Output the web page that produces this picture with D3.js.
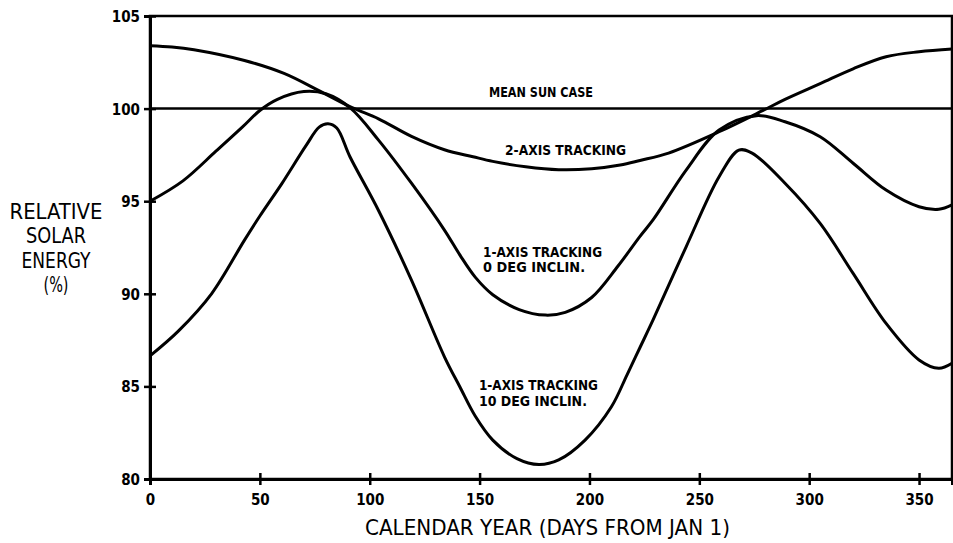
<!DOCTYPE html>
<html>
<head>
<meta charset="utf-8">
<script src="https://cdn.jsdelivr.net/npm/d3@7"></script>
<style>
    body { margin: 0; background: #fff; }
    svg { display: block; }
    .tick text { font-family: "DejaVu Sans Condensed", "DejaVu Sans", sans-serif; font-weight: bold; font-size: 15px; fill: #000; }
    .title { font-family: "DejaVu Sans Condensed", "DejaVu Sans", sans-serif; font-size: 21px; fill: #000; }
    .note { font-family: "DejaVu Sans Condensed", "DejaVu Sans", sans-serif; font-weight: bold; font-size: 14px; fill: #000; }
</style>
</head>
<body>
<svg id="chart" width="953" height="543"></svg>
<script>
// days from Jan 1 (% of mean sun case)
const twoAxisDays = [0, 10, 20, 43, 61, 78, 92, 104, 119, 134, 147, 156, 171, 186, 201, 214, 223, 236, 259, 279, 289, 305, 320, 335, 350, 365];
const twoAxis = [103.4, 103.33, 103.18, 102.6, 101.9, 100.9, 100.05, 99.45, 98.5, 97.78, 97.4, 97.15, 96.86, 96.7, 96.75, 96.95, 97.2, 97.6, 98.75, 99.9, 100.5, 101.35, 102.15, 102.8, 103.07, 103.22];

const oneAxis0Days = [0, 15, 30, 42, 50, 58, 70, 80, 91, 104, 119, 134, 141, 148, 156, 168, 180, 189, 201, 213, 223, 229, 244, 259, 276, 289, 305, 320, 335, 350, 359, 365];
const oneAxis0 = [95.0, 96.1, 97.7, 99.0, 99.9, 100.5, 100.92, 100.8, 100.05, 98.3, 95.97, 93.44, 92.1, 90.9, 89.95, 89.15, 88.85, 89.0, 89.8, 91.5, 93.1, 94.0, 96.68, 98.84, 99.62, 99.29, 98.48, 97.05, 95.6, 94.7, 94.56, 94.8];

const oneAxis10Days = [0, 13, 28, 43, 50, 60, 71, 77, 81, 85, 91, 104, 119, 134, 141, 148, 156, 167, 177, 186, 198, 210, 217, 223, 229, 244, 259, 268, 274, 289, 305, 320, 335, 350, 359, 365];
const oneAxis10 = [86.65, 88.0, 90.0, 92.9, 94.2, 95.95, 98.0, 99.0, 99.18, 98.95, 97.4, 94.5, 90.74, 86.6, 84.98, 83.4, 82.1, 81.1, 80.78, 81.03, 82.1, 83.9, 85.6, 87.1, 88.6, 92.54, 96.32, 97.76, 97.6, 95.97, 93.8, 91.1, 88.4, 86.43, 85.98, 86.25];

const meanSun = 100;

const xTicks = [0, 50, 100, 150, 200, 250, 300, 350];
const yTicks = [80, 85, 90, 95, 100, 105];

const xTitle = "CALENDAR YEAR (DAYS FROM JAN 1)";
const yTitle = ["RELATIVE", "SOLAR", "ENERGY", "(%)"];

const svg = d3.select("#chart");

const x = d3.scaleLinear().domain([0, 365]).range([150, 952]);
const y = d3.scaleLinear().domain([80, 105]).range([479, 16]);

// frame
svg.append("rect")
    .attr("x", x(0)).attr("y", y(105))
    .attr("width", x(365) - x(0)).attr("height", y(80) - y(105))
    .attr("fill", "none").attr("stroke", "#000").attr("stroke-width", 2.5);

// axes, ticks cross the frame line
const yAxis = svg.append("g")
    .attr("transform", `translate(${x(0)},0)`)
    .call(d3.axisLeft(y).tickValues(yTicks).tickFormat(d3.format("d")).tickSize(6));
yAxis.select(".domain").attr("stroke-width", 3);
yAxis.selectAll(".tick line").attr("x1", 6).attr("stroke-width", 2.5);
yAxis.selectAll(".tick text").attr("x", -10).attr("dy", "0.36em");

const xAxis = svg.append("g")
    .attr("transform", `translate(0,${y(80)})`)
    .call(d3.axisBottom(x).tickValues(xTicks).tickFormat(d3.format("d")).tickSize(6));
xAxis.select(".domain").attr("stroke-width", 3);
xAxis.selectAll(".tick line").attr("y1", -6).attr("stroke-width", 2.5);
xAxis.selectAll(".tick text").attr("y", 26).attr("dy", 0);
svg.selectAll(".domain").attr("stroke", "#000");
svg.selectAll(".tick line").attr("stroke", "#000");

// mean sun case reference line
svg.append("line")
    .attr("x1", x(0)).attr("x2", x(365))
    .attr("y1", y(meanSun)).attr("y2", y(meanSun))
    .attr("stroke", "#000").attr("stroke-width", 2.5);

const line = d3.line()
    .x(d => x(d[0]))
    .y(d => y(d[1]))
    .curve(d3.curveCatmullRom.alpha(0.5));

[[twoAxisDays, twoAxis], [oneAxis0Days, oneAxis0], [oneAxis10Days, oneAxis10]].forEach(([days, vals]) => {
    svg.append("path")
        .datum(d3.zip(days, vals))
        .attr("fill", "none")
        .attr("stroke", "#000")
        .attr("stroke-width", 3)
        .attr("stroke-linejoin", "round")
        .attr("d", line);
});

// curve labels
function note(text, day, value, width) {
    svg.append("text")
        .attr("class", "note")
        .attr("x", x(day)).attr("y", y(value))
        .attr("textLength", width).attr("lengthAdjust", "spacingAndGlyphs")
        .text(text);
}
note("MEAN SUN CASE", 154.3, 100.63, 104);
note("2-AXIS TRACKING", 161.6, 97.5, 121);
note("1-AXIS TRACKING", 151.6, 92.0, 119);
note("0 DEG INCLIN.", 151.6, 91.2, 102);
note("1-AXIS TRACKING", 149.7, 84.8, 119);
note("10 DEG INCLIN.", 149.7, 83.95, 108);

// axis titles
svg.append("text")
    .attr("class", "title")
    .attr("x", 365).attr("y", 535)
    .attr("textLength", 365).attr("lengthAdjust", "spacingAndGlyphs")
    .text(xTitle);

const yWidths = [93, 60, 69, 25];
yTitle.forEach((t, i) => {
    svg.append("text")
        .attr("class", "title")
        .attr("x", 56 - yWidths[i] / 2).attr("y", 219 + i * 24.3)
        .attr("textLength", yWidths[i]).attr("lengthAdjust", "spacingAndGlyphs")
        .text(t);
});
</script>
</body>
</html>
